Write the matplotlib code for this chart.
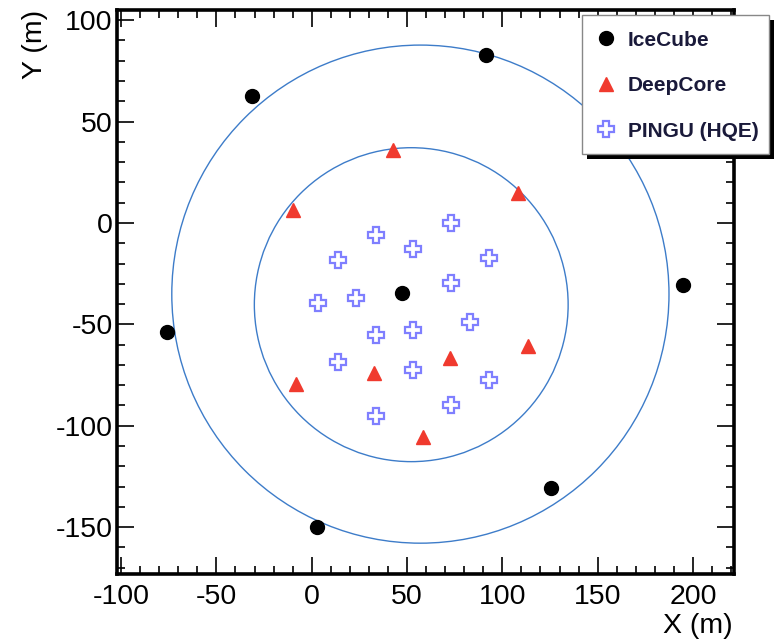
import matplotlib
matplotlib.use("Agg")
import matplotlib.pyplot as plt
from matplotlib.patches import Ellipse, Rectangle
from matplotlib.ticker import MultipleLocator

plt.rcParams['font.family'] = ['Liberation Sans', 'DejaVu Sans']
plt.rcParams['axes.unicode_minus'] = False

# string positions (metres)
icecube_x = [-31.3, 91.4, 194.7, 125.5, 2.8, -75.9, 47.3]
icecube_y = [62.5, 82.7, -30.7, -130.8, -150.0, -53.8, -34.6]

deepcore_x = [42.6, 108.2, -9.8, 113.4, -8.2, 32.6, 72.5, 58.4]
deepcore_y = [35.9, 14.7, 6.3, -60.7, -79.5, -74.1, -66.7, -105.6]

pingu_x = [33.7, 73.0, 13.9, 53.3, 93.0, 3.5, 23.1, 73.0,
           83.0, 33.7, 53.3, 13.9, 53.3, 73.0, 93.0, 33.7]
pingu_y = [-5.7, -0.2, -18.3, -12.9, -17.2, -39.4, -36.9, -29.8,
           -48.8, -55.3, -52.9, -68.5, -72.6, -89.8, -77.2, -95.3]

# ring outlines: centre x, centre y, width, height
rings = [(57.0, -35.1, 260.8, 245.6),
         (52.2, -40.3, 164.6, 154.8)]

legend_labels = ['IceCube', 'DeepCore', 'PINGU (HQE)']

W, H = 776, 642
fig = plt.figure(figsize=(W / 100, H / 100), dpi=100)
ax = fig.add_axes([116.7 / W, 1 - 574 / H, (734 - 116.7) / W, (574 - 10) / H])

ring_color = '#3d7cc9'
for cx, cy, w, h in rings:
    ax.add_patch(Ellipse((cx, cy), w, h, fill=False, edgecolor=ring_color, lw=1.0, zorder=1))

red = '#f03a2e'
blue = '#7f7fff'
h1, = ax.plot(icecube_x, icecube_y, 'o', color='black', ms=10, ls='none', zorder=3)
h2, = ax.plot(deepcore_x, deepcore_y, '^', color=red, ms=10, ls='none', zorder=3)
h3, = ax.plot(pingu_x, pingu_y, 'P', mfc='none', mec=blue, mew=1.6, ms=12, ls='none', zorder=3)

ax.set_xlim(-102.3, 221.5)
ax.set_ylim(-173.1, 105.0)

ax.xaxis.set_major_locator(MultipleLocator(50))
ax.xaxis.set_minor_locator(MultipleLocator(10))
ax.yaxis.set_major_locator(MultipleLocator(50))
ax.yaxis.set_minor_locator(MultipleLocator(10))
ax.tick_params(which='both', direction='in', top=True, right=True, width=1.2)
ax.tick_params(which='major', length=12)
ax.tick_params(which='minor', length=6)
ax.tick_params(axis='x', which='major', labelsize=20.5, pad=7)
ax.tick_params(axis='y', which='major', labelsize=20.5, pad=3)
for sp in ax.spines.values():
    sp.set_linewidth(2.6)

fig.text(733 / W, 1 - 626 / H, 'X (m)', ha='right', va='center', fontsize=20.5)
fig.text(35 / W, 1 - 10 / H, 'Y (m)', ha='center', va='top', rotation=90, fontsize=20.5)

# legend box with a solid black shadow
lx0, ly0, lx1, ly1 = 581.7, 15, 769, 154
shadow = Rectangle(((lx0 + 5) / W, 1 - (ly1 + 5) / H), (lx1 - lx0) / W, (ly1 - ly0) / H,
                   transform=fig.transFigure, facecolor='black', edgecolor='none', zorder=5)
box = Rectangle((lx0 / W, 1 - ly1 / H), (lx1 - lx0) / W, (ly1 - ly0) / H,
                transform=fig.transFigure, facecolor='white', edgecolor='#888888', lw=1.0, zorder=5.5)
fig.patches.extend([shadow, box])

leg = fig.legend([h1, h2, h3], legend_labels, loc='upper left',
                 bbox_to_anchor=(595.6 / W, 1 - 30.7 / H),
                 prop={'weight': 'bold', 'size': 15},
                 frameon=False, borderpad=0, labelspacing=1.27,
                 handlelength=1.0, handletextpad=0.56, borderaxespad=0)
leg.set_zorder(6)
for t in leg.get_texts():
    t.set_color('#1a1a3a')

fig.savefig('out.png', dpi=100)
